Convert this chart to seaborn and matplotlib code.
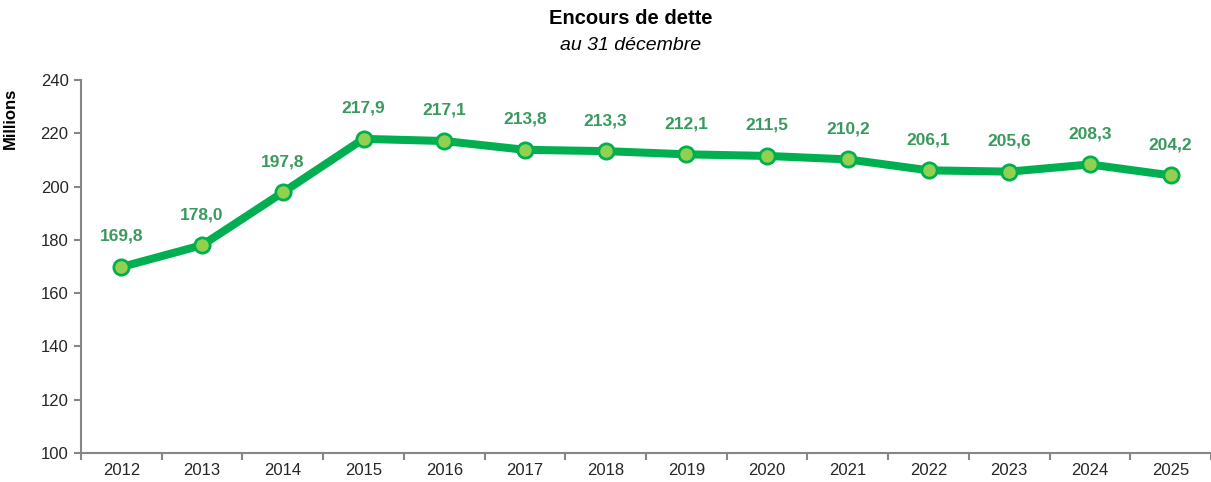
import matplotlib
matplotlib.use("Agg")
import matplotlib.pyplot as plt
import seaborn as sns
import pandas as pd
import numpy as np

years = ["2012", "2013", "2014", "2015", "2016", "2017", "2018", "2019",
         "2020", "2021", "2022", "2023", "2024", "2025"]
encours = [169.8, 178.0, 197.8, 217.9, 217.1, 213.8, 213.3, 212.1,
           211.5, 210.2, 206.1, 205.6, 208.3, 204.2]

sns.set_theme(style="white")
plt.rcParams['font.family'] = ['Liberation Sans', 'DejaVu Sans']

df = pd.DataFrame({"pos": np.arange(len(years)), "val": encours})

fig = plt.figure(figsize=(12.11, 4.82), dpi=100)
ax = fig.add_axes([81/1211, 29/482, (1211-81)/1211, (453-80)/482])

line_c = "#00B050"
sns.lineplot(data=df, x="pos", y="val", ax=ax, color=line_c, linewidth=5.8,
             marker="o", markersize=11, markerfacecolor="#92D050",
             markeredgecolor=line_c, markeredgewidth=2.0)

for x, v in zip(df["pos"], encours):
    ax.annotate(f"{v:.1f}".replace(".", ","), (x, v), xytext=(0, 22),
                textcoords="offset points", ha="center", va="center",
                fontsize=12.5, fontweight="bold", color="#3A9A5E")

ax.set_xlim(-0.5, len(years) - 0.5)
ax.set_ylim(100, 240)
ax.set_yticks(range(100, 241, 20))
ax.set_xticks(range(len(years)))
ax.set_xticklabels(years)
ax.set_xticks(np.arange(-0.5, len(years), 1.0), minor=True)
ax.tick_params(axis="x", which="major", length=0, labelsize=12, colors="#262626", pad=7)
ax.tick_params(axis="x", which="minor", length=5, width=1.5, color="#868686", direction="out", bottom=True)
ax.tick_params(axis="y", length=5, width=1.5, color="#868686", direction="out", left=True,
               labelsize=12, labelcolor="#262626", pad=4)
for s in ["top", "right"]:
    ax.spines[s].set_visible(False)
for s in ["left", "bottom"]:
    ax.spines[s].set_color("#868686")
    ax.spines[s].set_linewidth(1.5)
ax.set_xlabel("")
ax.set_ylabel("Millions", fontsize=12, fontweight="bold", color="black")
ax.yaxis.set_label_coords((18-81)/1130, (453-118)/373)
ax.grid(False)

fig.text(631/1211, 1 - 19/482, "Encours de dette", ha="center", va="center",
         fontsize=14.5, fontweight="bold", color="black")
fig.text(631/1211, 1 - 45/482, "au 31 décembre", ha="center", va="center",
         fontsize=14, fontstyle="italic", color="black")

fig.savefig("out.png", dpi=100)
